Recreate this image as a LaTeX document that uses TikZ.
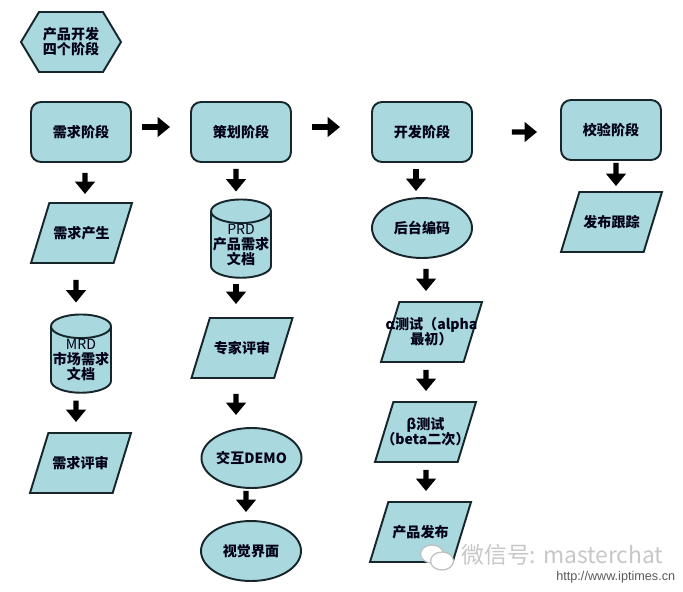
\documentclass[tikz,border=0pt]{standalone}
\usepackage{fontspec}
\setmainfont{Noto Sans CJK SC}
\newfontfamily\urlfont{Liberation Sans}
\usetikzlibrary{shapes.geometric, shapes.symbols, arrows.meta}
\definecolor{boxfill}{HTML}{A9D8DF}
\definecolor{boxline}{HTML}{17262B}
\tikzset{
	boxbase/.style={draw=boxline, fill=boxfill, line width=1.1pt, align=center, inner sep=0pt, text=black!90!blue, font=\fontsize{8}{8.6}\selectfont\bfseries},
	stagebox/.style={boxbase, rectangle, rounded corners=0.2cm, minimum width=2cm, minimum height=1.2cm},
	iobox/.style={boxbase, trapezium, trapezium left angle=73, trapezium right angle=107, trapezium stretches body=true, inner xsep=0pt, inner ysep=0.6cm, minimum width=2.02cm},
	iotext/.style={align=center, inner sep=0pt, text=black!90!blue, font=\fontsize{8}{8.6}\selectfont\bfseries},
	docstore/.style={boxbase, cylinder, shape border rotate=90, aspect=0.42, minimum width=1.2cm, minimum height=1.4cm},
	ballbox/.style={boxbase, ellipse, minimum width=2cm, minimum height=1.2cm},
	hexbox/.style={boxbase, signal, signal to=east and west, signal pointer angle=118, minimum width=2cm, minimum height=1.2cm},
	bigarrow/.style={draw=black, line width=2.9pt, -{Triangle[length=0.25cm, width=0.39cm]}},
	bubble/.style={draw=black!25, fill=white, ellipse, line width=0.7pt, minimum width=0.46cm, minimum height=0.36cm, inner sep=0pt},
}
\begin{document}
\begin{tikzpicture}
	\useasboundingbox (0, 0) rectangle (13.66, 11.82);
	% Stage row and title:
	\node[hexbox] (title) at (1.42, 10.98){产品开发\\四个阶段};
	\node[stagebox] (need) at (1.62, 9.18){需求阶段};
	\node[stagebox] (plan) at (4.82, 9.18){策划阶段};
	\node[stagebox] (dev) at (8.44, 9.18){开发阶段};
	\node[stagebox] (check) at (12.22, 9.22){校验阶段};
	% First column:
	\node[iobox] (needgen) at (1.63, 7.16){};
	\node[iotext] (needgentext) at (needgen.center){需求产生};
	\node[docstore] (mrd) at (1.62, 4.62){\mdseries MRD\\市场需求\\文档};
	\node[iobox] (needrev) at (1.61, 2.56){};
	\node[iotext] (needrevtext) at (needrev.center){需求评审};
	% Second column:
	\node[docstore] (prd) at (4.82, 6.92){\mdseries PRD\\产品需求\\文档};
	\node[iobox] (expert) at (4.84, 4.86){};
	\node[iotext] (experttext) at (expert.center){专家评审};
	\node[ballbox] (demo) at (5.03, 2.66){交互DEMO};
	\node[ballbox] (visual) at (5.02, 0.8){视觉界面};
	% Third column:
	\node[ballbox] (code) at (8.44, 7.26){后台编码};
	\node[iobox] (alpha) at (8.63, 5.18){};
	\node[iotext] (alphatext) at (alpha.center){α测试（alpha\\最初）};
	\node[iobox] (beta) at (8.51, 3.18){};
	\node[iotext] (betatext) at (beta.center){β测试\\（beta二次）};
	\node[iobox] (release) at (8.41, 1.18){};
	\node[iotext] (releasetext) at (release.center){产品发布};
	% Fourth column:
	\node[iobox] (track) at (12.23, 7.38){};
	\node[iotext] (tracktext) at (track.center){发布跟踪};
	% Arrows between stages:
	\draw[bigarrow] ([shift={(0.2, 0.1)}]need.east) -- ([shift={(-0.4, 0.1)}]plan.west);
	\draw[bigarrow] ([shift={(0.4, 0.1)}]plan.east) -- ([shift={(-0.62, 0.1)}]dev.west);
	\draw[bigarrow] ([shift={(0.78, 0)}]dev.east) -- ([shift={(-0.46, -0.04)}]check.west);
	% Arrows inside the columns:
	\draw[bigarrow] ([shift={(0.08, -0.2)}]need.south) -- ([shift={(0.07, 0.16)}]needgen.north);
	\draw[bigarrow] ([shift={(-0.11, -0.32)}]needgen.south) -- ([shift={(-0.1, 0.22)}]mrd.north);
	\draw[bigarrow] ([shift={(-0.1, -0.14)}]mrd.south) -- ([shift={(-0.09, 0.2)}]needrev.north);
	\draw[bigarrow] ([shift={(-0.1, -0.12)}]plan.south) -- ([shift={(-0.1, 0.14)}]prd.north);
	\draw[bigarrow] ([shift={(-0.1, -0.1)}]prd.south) -- ([shift={(-0.12, 0.26)}]expert.north);
	\draw[bigarrow] ([shift={(-0.12, -0.3)}]expert.south) -- ([shift={(-0.31, 0.24)}]demo.north);
	\draw[bigarrow] ([shift={(-0.11, -0.04)}]demo.south) -- ([shift={(-0.1, 0.16)}]visual.north);
	\draw[bigarrow] ([shift={(-0.12, -0.12)}]dev.south) -- ([shift={(-0.12, 0.12)}]code.north);
	\draw[bigarrow] ([shift={(0.08, -0.2)}]code.south) -- ([shift={(-0.11, 0.2)}]alpha.north);
	\draw[bigarrow] ([shift={(-0.11, -0.14)}]alpha.south) -- ([shift={(0.01, 0.2)}]beta.north);
	\draw[bigarrow] ([shift={(0.01, -0.14)}]beta.south) -- ([shift={(0.11, 0.2)}]release.north);
	\draw[bigarrow] ([shift={(0.1, -0.04)}]check.south) -- ([shift={(0.09, 0.1)}]track.north);
	% Watermark:
	\node[bubble] (bubbleback) at (8.64, 0.74){};
	\node[bubble] (bubblefront) at (8.84, 0.6){};
	\node[text=black!22, font=\fontsize{13}{15}\selectfont, anchor=west, inner sep=0pt] (mark) at (9.22, 0.72){微信号: masterchat};
	\node[text=black!65, font=\urlfont\fontsize{7.2}{9}\selectfont, anchor=west, inner sep=0pt] (site) at (11.12, 0.27){http://www.iptimes.cn};
\end{tikzpicture}
\end{document}
